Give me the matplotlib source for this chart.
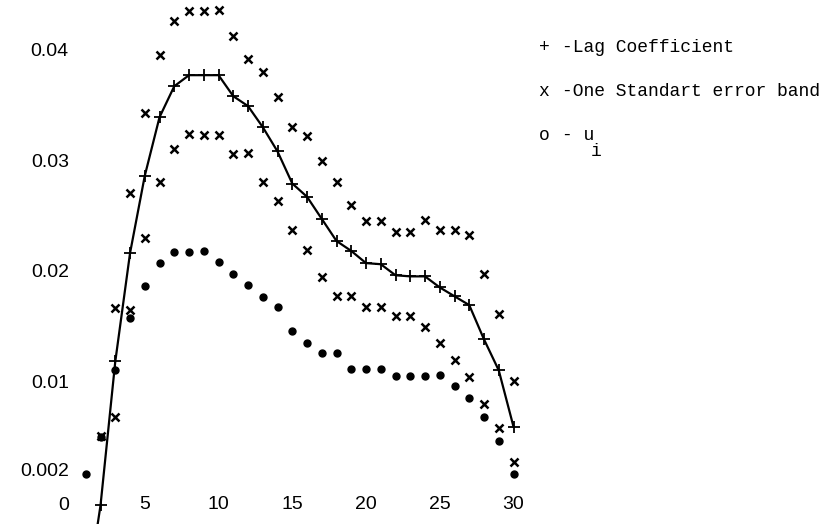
import matplotlib
matplotlib.use("Agg")
import matplotlib.pyplot as plt
import matplotlib.transforms as mtransforms
from matplotlib.ticker import FuncFormatter

# lag number for each series
lags_coef = list(range(1, 31))
lag_coef = [-0.0100, -0.0012, 0.0118, 0.0216, 0.0286, 0.0339, 0.0367, 0.0377, 0.0377, 0.0377,
            0.0358, 0.0349, 0.0330, 0.0308, 0.0279, 0.0267, 0.0247, 0.0227, 0.0218, 0.0207,
            0.0206, 0.0196, 0.0195, 0.0195, 0.0185, 0.0177, 0.0169, 0.0138, 0.0110, 0.0059]

lags_upper = list(range(2, 31))
band_upper = [0.0051, 0.0166, 0.0270, 0.0343, 0.0395, 0.0426, 0.0435, 0.0435, 0.0436,
              0.0412, 0.0392, 0.0380, 0.0357, 0.0330, 0.0322, 0.0299, 0.0280, 0.0260,
              0.0245, 0.0245, 0.0235, 0.0235, 0.0246, 0.0237, 0.0237, 0.0232, 0.0197,
              0.0161, 0.0100]

lags_lower = list(range(3, 31))
band_lower = [0.0068, 0.0165, 0.0230, 0.0280, 0.0310, 0.0324, 0.0323, 0.0323, 0.0306,
              0.0307, 0.0280, 0.0263, 0.0237, 0.0219, 0.0194, 0.0177, 0.0177, 0.0167,
              0.0167, 0.0159, 0.0159, 0.0149, 0.0135, 0.0119, 0.0104, 0.0080, 0.0058,
              0.0027]

lags_u = list(range(1, 31))
u_vals = [0.0016, 0.0050, 0.0110, 0.0157, 0.0186, 0.0207, 0.0217, 0.0217, 0.0218, 0.0208,
          0.0197, 0.0187, 0.0176, 0.0167, 0.0146, 0.0135, 0.0126, 0.0126, 0.0111, 0.0111,
          0.0111, 0.0105, 0.0105, 0.0105, 0.0106, 0.0096, 0.0085, 0.0068, 0.0046, 0.0016]

x_ticks = [5, 10, 15, 20, 25, 30]
y_ticks = [0, 0.002, 0.01, 0.02, 0.03, 0.04]

legend_labels = ["-Lag Coefficient", "-One Standart error band", "- u"]
legend_symbols = ["+", "x", "o"]

fig = plt.figure(figsize=(8.29, 5.24), dpi=100)
ax = fig.add_axes([0.0679, 0.0, 0.6049, 1.0])

ax.plot(lags_coef, lag_coef, color="black", lw=1.6, marker="+", ms=8, mew=1.3)
ax.plot(lags_upper, band_upper, ls="none", marker="x", color="black", ms=6, mew=1.8)
ax.plot(lags_lower, band_lower, ls="none", marker="x", color="black", ms=6, mew=1.8)
ax.plot(lags_u, u_vals, ls="none", marker="o", color="black", ms=5)

ax.set_xlim(-1, 33)
ax.set_ylim(-0.0029, 0.0445)
for s in ax.spines.values():
    s.set_visible(False)

ax.set_xticks(x_ticks)
ax.set_yticks(y_ticks)
ax.yaxis.set_major_formatter(FuncFormatter(lambda v, p: "0" if v == 0 else f"{v:g}"))
ax.tick_params(axis="x", length=0, pad=-20, labelsize=14)
ax.tick_params(axis="y", length=0, pad=-9, labelsize=14)
for lab in ax.get_xticklabels() + ax.get_yticklabels():
    lab.set_fontfamily("Liberation Sans")

# the "0" label sits on the row of the x labels in the original
zero_lab = ax.yaxis.get_major_ticks()[0].label1
zero_lab.set_transform(zero_lab.get_transform() +
                       mtransforms.ScaledTranslation(0, -8 / 72, fig.dpi_scale_trans))

W, H = 829, 524
ys = [47, 92, 136]
for sym, lab, y in zip(legend_symbols, legend_labels, ys):
    fig.text(544 / W, 1 - y / H, sym, family="Liberation Mono", fontsize=13,
             ha="center", va="center")
    fig.text(562 / W, 1 - y / H, lab, family="Liberation Mono", fontsize=13,
             ha="left", va="center")
fig.text(596 / W, 1 - 151 / H, "i", family="Liberation Mono", fontsize=13,
         ha="center", va="center")

fig.savefig("out.png", dpi=100)
